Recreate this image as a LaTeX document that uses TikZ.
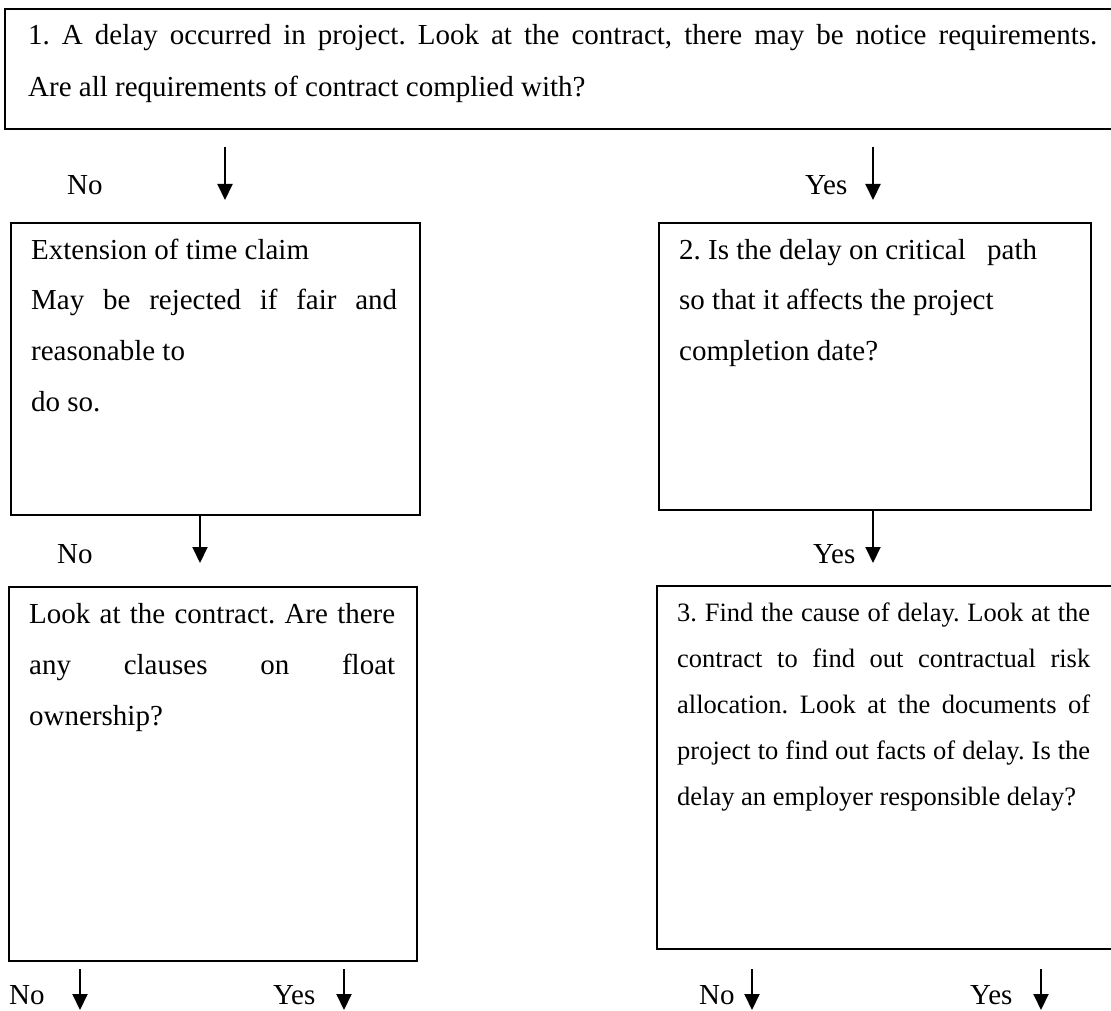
\documentclass[tikz,border=0pt]{standalone}
\usepackage{fontspec}
\setmainfont{Liberation Serif}
\usetikzlibrary{arrows.meta}
\frenchspacing
\begin{document}
\begin{tikzpicture}[x=1pt,y=-1pt,
  boxs/.style={draw, line width=1.8pt, inner sep=0pt, anchor=north west},
  txt/.style={inner sep=0pt, anchor=base west},
  lbl/.style={inner sep=0pt, anchor=base west, font=\fontsize{29}{35}\selectfont},
  arr/.style={line width=2pt, -{Triangle[length=16pt,width=15pt]}}]
\useasboundingbox (0,0) rectangle (1111,1011);
\clip (0,0) rectangle (1111,1011);
% boxes
\node[boxs, minimum width=1115pt, minimum height=120pt] (b1) at (4,8) {};
\node[boxs, minimum width=409pt, minimum height=292pt] (ext) at (10,222) {};
\node[boxs, minimum width=432pt, minimum height=287pt] (b2) at (658,222) {};
\node[boxs, minimum width=408pt, minimum height=374pt] (flt) at (8,586) {};
\node[boxs, minimum width=460pt, minimum height=363pt] (b3) at (656,585) {};
% texts
\node[txt] (t1) at (28,45) {\parbox[t]{1069pt}{\fontsize{29}{52}\selectfont
  \makebox[\linewidth][s]{1. A delay occurred in project. Look at the contract, there may be notice requirements.}\\
  Are all requirements of contract complied with?}};
\node[txt] (text) at (31,259) {\parbox[t]{366pt}{\fontsize{29}{50.7}\selectfont
  Extension of time claim\\
  \makebox[\linewidth][s]{May be rejected if fair and}\\
  reasonable to\\
  do so.}};
\node[txt] (t2) at (679,259) {\parbox[t]{400pt}{\fontsize{29}{50.5}\selectfont
  2. Is the delay on critical\hspace{14pt} path\\
  so that it affects the project\\
  completion date?}};
\node[txt] (tflt) at (29,623) {\parbox[t]{366pt}{\fontsize{29}{51}\selectfont
  \makebox[\linewidth][s]{Look at the contract. Are there}\\
  \makebox[\linewidth][s]{any clauses on float}\\
  ownership?}};
\node[txt] (t3) at (677,621) {\parbox[t]{413pt}{\fontsize{26.5}{46}\selectfont
  \makebox[\linewidth][s]{3. Find the cause of delay. Look at the}\\
  \makebox[\linewidth][s]{contract to find out contractual risk}\\
  \makebox[\linewidth][s]{allocation. Look at the documents of}\\
  \makebox[\linewidth][s]{project to find out facts of delay. Is the}\\
  delay an employer responsible delay?}};
% labels
\node[lbl] (l1) at (67,195) {No};
\node[lbl] (l2) at (805,195) {Yes};
\node[lbl] (l3) at (57,563) {No};
\node[lbl] (l4) at (813,563) {Yes};
\node[lbl] (l5) at (9,1004) {No};
\node[lbl] (l6) at (273,1004) {Yes};
\node[lbl] (l7) at (699,1004) {No};
\node[lbl] (l8) at (970,1004) {Yes};
% arrow coordinates
\coordinate (a1s) at (225,147); \coordinate (a1e) at (225,200);
\coordinate (a2s) at (873,147); \coordinate (a2e) at (873,200);
\coordinate (a3e) at (200,563);
\coordinate (a4e) at (873,563);
\coordinate (a5s) at (80,969);  \coordinate (a5e) at (80,1010);
\coordinate (a6s) at (344,969); \coordinate (a6e) at (344,1010);
\coordinate (a7s) at (752,969); \coordinate (a7e) at (752,1010);
\coordinate (a8s) at (1041,969); \coordinate (a8e) at (1041,1010);
% arrows
\draw[arr] (a1s) -- (a1e);
\draw[arr] (a2s) -- (a2e);
\draw[arr] (ext.south -| a3e) -- (a3e);
\draw[arr] (b2.south -| a4e) -- (a4e);
\draw[arr] (a5s) -- (a5e);
\draw[arr] (a6s) -- (a6e);
\draw[arr] (a7s) -- (a7e);
\draw[arr] (a8s) -- (a8e);
\end{tikzpicture}
\end{document}
